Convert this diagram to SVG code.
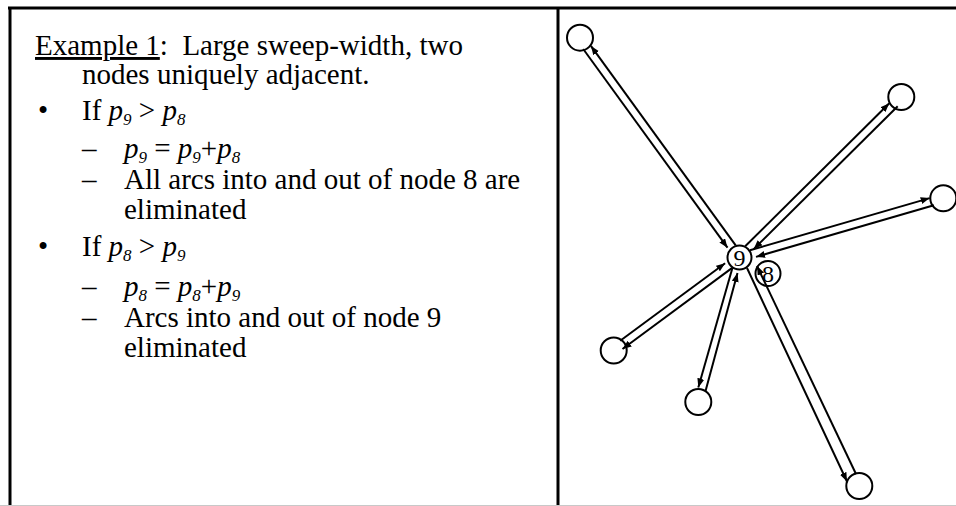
<svg xmlns="http://www.w3.org/2000/svg" width="956" height="506" viewBox="0 0 956 506">
<style>
.t{font-family:"Liberation Serif","Times New Roman",serif;font-size:29px;fill:#000;white-space:pre}
.i{font-style:italic}
.s{font-size:17px}
.frame{stroke:#000;stroke-width:3;fill:none}
.node{fill:none;stroke:#000;stroke-width:2}
.edge{stroke:#000;stroke-width:2;fill:none;marker-end:url(#ah)}
.lbl{font-family:"Liberation Serif","Times New Roman",serif;font-size:24px;text-anchor:middle;fill:#000}
</style>
<defs>
<marker id="ah" markerUnits="userSpaceOnUse" markerWidth="10" markerHeight="8" refX="9" refY="3.5" orient="auto">
<path d="M0,0 L9,3.5 L0,7 z" fill="#000"/>
</marker>
</defs>
<rect width="956" height="506" fill="#fff"/>
<g id="frame">
<line class="frame" x1="8" y1="8" x2="956" y2="8"/>
<line class="frame" x1="10" y1="8" x2="10" y2="506"/>
<line class="frame" x1="558" y1="8" x2="558" y2="506"/>
<line x1="0" y1="505.5" x2="956" y2="505.5" stroke="#c8c8c8" stroke-width="1"/>
</g>
<g id="text">
<text class="t" x="35" y="55" xml:space="preserve"><tspan text-decoration="underline">Example 1</tspan>:  Large sweep-width, two</text>
<text class="t" x="82" y="84">nodes uniquely adjacent.</text>
<text class="t" x="38" y="120">•</text>
<text class="t" x="82" y="120" xml:space="preserve">If <tspan class="i">p</tspan><tspan class="i s" dy="5">9</tspan><tspan dy="-5"> &gt; </tspan><tspan class="i">p</tspan><tspan class="i s" dy="5">8</tspan></text>
<text class="t" x="82" y="158">–</text>
<text class="t" x="124" y="158" xml:space="preserve"><tspan class="i">p</tspan><tspan class="i s" dy="5">9</tspan><tspan dy="-5"> = </tspan><tspan class="i">p</tspan><tspan class="i s" dy="5">9</tspan><tspan dy="-5">+</tspan><tspan class="i">p</tspan><tspan class="i s" dy="5">8</tspan></text>
<text class="t" x="82" y="189">–</text>
<text class="t" x="124" y="189">All arcs into and out of node 8 are</text>
<text class="t" x="124" y="219">eliminated</text>
<text class="t" x="38" y="256">•</text>
<text class="t" x="82" y="256" xml:space="preserve">If <tspan class="i">p</tspan><tspan class="i s" dy="5">8</tspan><tspan dy="-5"> &gt; </tspan><tspan class="i">p</tspan><tspan class="i s" dy="5">9</tspan></text>
<text class="t" x="82" y="296">–</text>
<text class="t" x="124" y="296" xml:space="preserve"><tspan class="i">p</tspan><tspan class="i s" dy="5">8</tspan><tspan dy="-5"> = </tspan><tspan class="i">p</tspan><tspan class="i s" dy="5">8</tspan><tspan dy="-5">+</tspan><tspan class="i">p</tspan><tspan class="i s" dy="5">9</tspan></text>
<text class="t" x="82" y="327">–</text>
<text class="t" x="124" y="327">Arcs into and out of node 9</text>
<text class="t" x="124" y="357">eliminated</text>
</g>
<g id="connectors">
<line class="edge" x1="583.2" y1="49.0" x2="727.5" y2="247.7"/>
<line class="edge" x1="735.7" y1="245.4" x2="590.9" y2="45.9"/>
<line class="edge" x1="745.2" y1="246.2" x2="889.3" y2="103.3"/>
<line class="edge" x1="897.7" y1="106.2" x2="753.7" y2="249.1"/>
<line class="edge" x1="749.9" y1="250.3" x2="929.7" y2="198.1"/>
<line class="edge" x1="933.9" y1="205.2" x2="756.0" y2="256.9"/>
<line class="edge" x1="620.2" y1="340.7" x2="725.1" y2="263.2"/>
<line class="edge" x1="732.2" y1="267.9" x2="622.5" y2="349.0"/>
<line class="edge" x1="732.4" y1="267.9" x2="698.3" y2="387.4"/>
<line class="edge" x1="705.4" y1="391.6" x2="737.5" y2="273.0"/>
<line class="edge" x1="747" y1="268" x2="847" y2="481.5"/>
<line class="edge" x1="856" y1="474" x2="757" y2="266"/>
</g>
<g id="n9"><circle class="node" cx="739.5" cy="257.5" r="12"/><text class="lbl" x="739.5" y="266">9</text></g>
<g id="n8"><circle class="node" cx="768" cy="273.5" r="12.5"/><text class="lbl" x="768" y="282">8</text></g>
<g id="nTL"><circle class="node" cx="580" cy="37.7" r="13"/></g>
<g id="nTR"><circle class="node" cx="901.3" cy="97" r="13"/></g>
<g id="nR"><circle class="node" cx="943.3" cy="198.3" r="13"/></g>
<g id="nLL"><circle class="node" cx="613.7" cy="350.5" r="13"/></g>
<g id="nB"><circle class="node" cx="698.3" cy="402" r="13"/></g>
<g id="nBR"><circle class="node" cx="859.3" cy="486" r="13"/></g>
</svg>
